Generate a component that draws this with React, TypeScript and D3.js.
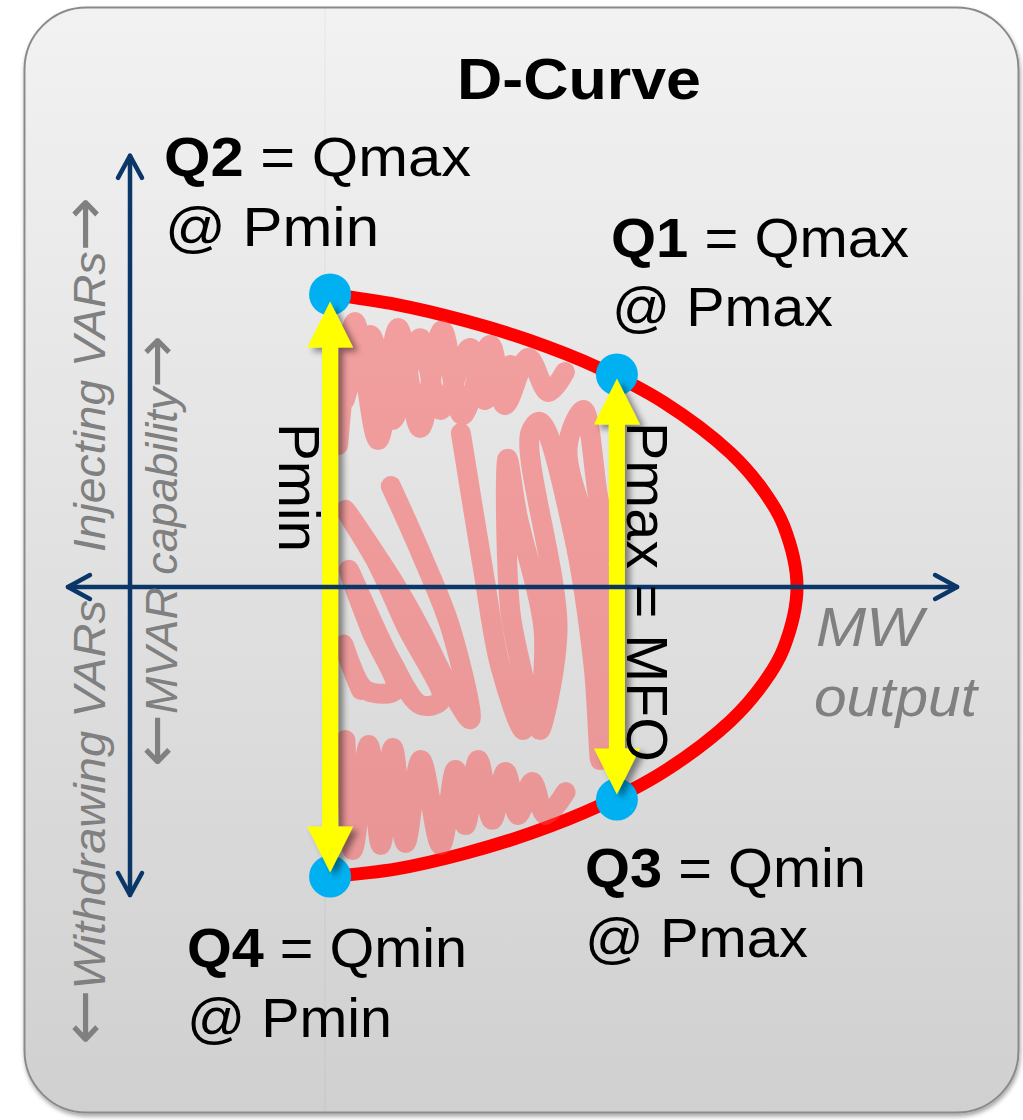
import React from 'react';
import * as d3 from 'd3';

// ---- data (P = MW output, Q = MVAR) ----
const CURVE_P = [30, 40, 50, 60, 70, 80, 90, 95, 98, 100, 98, 95, 90, 80, 70, 60, 50, 40, 30];
const CURVE_Q = [95, 91.7, 86.6, 80, 71.4, 60, 43.6, 31.2, 19.9, 0, -19.9, -31.2, -43.6, -60, -71.4, -80, -86.6, -91.5, -94];

const POINT_NAMES = ['Q1', 'Q2', 'Q3', 'Q4'];
const POINT_P = [73, 30, 73, 30];
const POINT_Q = [69, 95, -69, -94];

const P_MIN = 30;
const P_MAX = 73;
const P_AXIS = [-9.3, 124];
const Q_AXIS = [-100, 140];

// hand-drawn scribble fill of the operating region, [P, Q]
const SCRIBBLE_UPPER_A: [number, number][] = [
  [31.2, 46.1], [33.7, 86.0], [37.2, 47.7], [40.2, 84.1], [43.5, 51.6], [46.8, 83.4], [49.8, 55.8],
  [54.0, 78.6], [56.2, 59.1], [59.7, 74.4], [62.7, 63.3], [65.2, 69.8],
];
const SCRIBBLE_UPPER_B: [number, number][] = [
  [32.2, 60.7], [36.0, 81.8], [39.3, 54.2], [43.5, 80.8], [46.5, 57.5], [51.0, 77.6], [53.2, 60.7], [57.0, 72.1],
];
const SCRIBBLE_RIGHT: [number, number][] = [
  [49.6, 50.0], [53.0, 4.9], [55.5, -25.6], [59.0, -46.4], [59.6, -38.0], [57.0, -7.5], [56.6, 41.6],
  [58.1, 23.1], [62.0, -13.6], [61.5, -46.4], [64.1, -13.6], [60.0, 50.0], [61.5, 53.6], [66.5, 16.9],
  [69.5, -25.6], [70.5, -56.2], [71.0, -1.3], [65.6, 45.1], [68.0, 57.5], [70.1, 30.5], [71.6, 11.0],
];
const SCRIBBLE_LEFT: [number, number][] = [
  [39.1, 32.8], [43.6, 11.0], [48.1, -13.6], [51.0, -42.9], [47.3, -30.2], [43.6, -14.0], [39.8, 0.6],
  [32.3, 25.0], [36.8, 8.8], [41.3, -12.3], [46.6, -36.7], [43.6, -38.3], [39.1, -23.7], [32.8, 5.5],
  [36.1, -14.0], [39.8, -33.4], [35.3, -33.4], [32.0, -18.8], [34.6, -33.4],
];
const SCRIBBLE_LOWER: [number, number][] = [
  [32.3, -49.7], [33.4, -85.4], [35.8, -51.3], [37.6, -83.8], [39.4, -52.3], [41.3, -83.1], [43.6, -56.2],
  [46.6, -83.8], [48.8, -59.4], [50.3, -77.3], [52.2, -56.2], [54.3, -75.6], [56.3, -60.1], [58.2, -74.0],
  [60.3, -63.3], [62.3, -74.0], [65.3, -66.6],
];
const SCRIBBLES = [SCRIBBLE_UPPER_A, SCRIBBLE_UPPER_B, SCRIBBLE_RIGHT, SCRIBBLE_LEFT, SCRIBBLE_LOWER];

const TITLE = 'D-Curve';
const FONT = "'Liberation Sans', Arial, Helvetica, sans-serif";
const ARROW_FONT = "'DejaVu Sans', sans-serif";

export default function App() {
  const W = 1023;
  const H = 1120;
  const x = d3.scaleLinear().domain([0, 100]).range([130, 797]);
  const y = d3.scaleLinear().domain([0, 100]).range([587, 279]);

  const curvePts: [number, number][] = CURVE_P.map((p, i) => [p, CURVE_Q[i]]);
  const curveLine = d3
    .line<[number, number]>()
    .x((d) => x(d[0]))
    .y((d) => y(d[1]))
    .curve(d3.curveCatmullRom.alpha(0.5));

  const scribLine = d3
    .line<[number, number]>()
    .x((d) => x(d[0]))
    .y((d) => y(d[1]))
    .curve(d3.curveCatmullRom.alpha(0.5));

  const x0 = x(0);
  const y0 = y(0);
  const axL = x(P_AXIS[0]);
  const axR = x(P_AXIS[1]);
  const axT = y(Q_AXIS[1]);
  const axB = y(Q_AXIS[0]);

  const dbl = (cx: number, yt: number, yb: number) => {
    const hl = 46, hw = 23, sw = 8;
    return `M${cx},${yt} L${cx + hw},${yt + hl} L${cx + sw},${yt + hl} L${cx + sw},${yb - hl} L${cx + hw},${yb - hl} L${cx},${yb} L${cx - hw},${yb - hl} L${cx - sw},${yb - hl} L${cx - sw},${yt + hl} L${cx - hw},${yt + hl} Z`;
  };
  const qAt = (p: number, sign: number) => {
    const i = POINT_P.findIndex((v, k) => v === p && Math.sign(POINT_Q[k]) === sign);
    return POINT_Q[i];
  };

  const navy = '#0b3768';
  const gray = '#808080';
  const arrowTs = { fontFamily: ARROW_FONT, fontStyle: 'normal' as const, fontSize: 62 };

  return (
    <div style={{ position: 'absolute', left: 0, top: 0 }}>
      <svg width={W} height={H} viewBox={`0 0 ${W} ${H}`} style={{ display: 'block' }}>
        <defs>
          <linearGradient id="bg" x1="0" y1="0" x2="0" y2="1">
            <stop offset="0" stopColor="#f2f2f2" />
            <stop offset="0.5" stopColor="#e1e1e1" />
            <stop offset="1" stopColor="#d0d0d0" />
          </linearGradient>
          <filter id="panelShadow" x="-5%" y="-5%" width="110%" height="110%">
            <feDropShadow dx="1" dy="3" stdDeviation="2" floodColor="#000" floodOpacity="0.35" />
          </filter>
          <filter id="arrowShadow" x="-50%" y="-10%" width="200%" height="120%">
            <feDropShadow dx="5" dy="4" stdDeviation="3" floodColor="#000" floodOpacity="0.45" />
          </filter>
        </defs>
        <rect x={0} y={0} width={W} height={H} fill="#ffffff" />
        <rect
          x={24.5}
          y={7.5}
          width={994}
          height={1105}
          rx={62}
          ry={62}
          fill="url(#bg)"
          stroke="#8a8a8a"
          strokeWidth={2}
          filter="url(#panelShadow)"
        />
        <line x1={325} x2={325} y1={9} y2={1111} stroke="#000" strokeOpacity={0.05} strokeWidth={1} />

        {/* D-curve */}
        <path d={curveLine(curvePts) || ''} fill="none" stroke="#ff0000" strokeWidth={13} strokeLinecap="butt" />

        {/* scribble */}
        <g opacity={0.45}>
          {SCRIBBLES.map((s, i) => (
            <path
              key={i}
              d={scribLine(s) || ''}
              fill="none"
              stroke="rgb(255,70,70)"
              strokeWidth={20}
              strokeLinecap="round"
              strokeLinejoin="round"
            />
          ))}
        </g>

        {/* points */}
        {POINT_NAMES.map((n, i) => (
          <circle key={n} cx={x(POINT_P[i])} cy={y(POINT_Q[i])} r={21} fill="#00b0f0" />
        ))}

        {/* yellow double arrows */}
        <g filter="url(#arrowShadow)">
          <path d={dbl(x(P_MIN), y(qAt(P_MIN, 1)) + 7, y(qAt(P_MIN, -1)) - 4)} fill="#ffff00" />
          <path d={dbl(x(P_MAX), y(qAt(P_MAX, 1)) + 4, y(qAt(P_MAX, -1)) - 5)} fill="#ffff00" />
        </g>

        {/* axes */}
        <g stroke={navy} strokeWidth={4.5} fill="none" strokeLinecap="round" strokeLinejoin="round">
          <line x1={axL} x2={axR} y1={y0} y2={y0} />
          <line x1={x0} x2={x0} y1={axT} y2={axB} />
          <path d={`M${axL + 22},${y0 - 12} L${axL},${y0} L${axL + 22},${y0 + 12}`} />
          <path d={`M${axR - 22},${y0 - 12} L${axR},${y0} L${axR - 22},${y0 + 12}`} />
          <path d={`M${x0 - 12},${axT + 22} L${x0},${axT} L${x0 + 12},${axT + 22}`} />
          <path d={`M${x0 - 12},${axB - 22} L${x0},${axB} L${x0 + 12},${axB - 22}`} />
        </g>

        {/* texts */}
        <g fontFamily={FONT} fill="#000">
          <text x={457} y={99} fontSize={57} fontWeight="bold" textLength={244} lengthAdjust="spacingAndGlyphs">
            {TITLE}
          </text>

          <text x={164} y={176} fontSize={56} textLength={307} lengthAdjust="spacingAndGlyphs">
            <tspan fontWeight="bold">Q2</tspan>{' = Qmax'}
          </text>
          <text x={165} y={246} fontSize={56} textLength={214} lengthAdjust="spacingAndGlyphs">
            @ Pmin
          </text>

          <text x={611} y={257} fontSize={56} textLength={298} lengthAdjust="spacingAndGlyphs">
            <tspan fontWeight="bold">Q1</tspan>{' = Qmax'}
          </text>
          <text x={612} y={326} fontSize={56} textLength={221} lengthAdjust="spacingAndGlyphs">
            @ Pmax
          </text>

          <text x={585} y={887} fontSize={56} textLength={281} lengthAdjust="spacingAndGlyphs">
            <tspan fontWeight="bold">Q3</tspan>{' = Qmin'}
          </text>
          <text x={585} y={957} fontSize={56} textLength={223} lengthAdjust="spacingAndGlyphs">
            @ Pmax
          </text>

          <text x={187} y={967} fontSize={56} textLength={280} lengthAdjust="spacingAndGlyphs">
            <tspan fontWeight="bold">Q4</tspan>{' = Qmin'}
          </text>
          <text x={187} y={1037} fontSize={56} textLength={205} lengthAdjust="spacingAndGlyphs">
            @ Pmin
          </text>

          <text transform="translate(279,423) rotate(90)" fontSize={57} textLength={129} lengthAdjust="spacingAndGlyphs">
            Pmin
          </text>
          <text transform="translate(627,422) rotate(90)" fontSize={57} textLength={340} lengthAdjust="spacingAndGlyphs">
            Pmax = MFO
          </text>
        </g>

        <g fontFamily={FONT} fill={gray} fontStyle="italic">
          <text transform="translate(105,552) rotate(-90)" fontSize={44} textLength={355} lengthAdjust="spacingAndGlyphs">
            Injecting VARs<tspan {...arrowTs}>→</tspan>
          </text>
          <text transform="translate(105,1045) rotate(-90)" fontSize={44} textLength={445} lengthAdjust="spacingAndGlyphs">
            <tspan {...arrowTs}>←</tspan>
            <tspan>Withdrawing VARs</tspan>
          </text>
          <text transform="translate(177,767) rotate(-90)" fontSize={44} textLength={432} lengthAdjust="spacingAndGlyphs">
            <tspan {...arrowTs}>←</tspan>
            <tspan>MVAR capability</tspan>
            <tspan {...arrowTs}>→</tspan>
          </text>
          <text x={816} y={646} fontSize={56} textLength={107} lengthAdjust="spacingAndGlyphs">
            MW
          </text>
          <text x={814} y={716} fontSize={56} textLength={163} lengthAdjust="spacingAndGlyphs">
            output
          </text>
        </g>
      </svg>
    </div>
  );
}
